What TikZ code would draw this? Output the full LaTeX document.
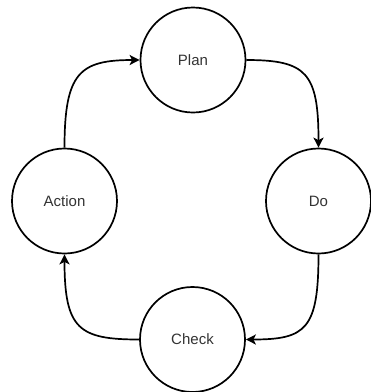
\documentclass[tikz,border=0pt]{standalone}
\usepackage{fontspec}
\setmainfont{Liberation Sans}
\usetikzlibrary{arrows.meta}
\begin{document}
\begin{tikzpicture}[x=1pt,y=-1pt,
  stage/.style={circle,draw=black,line width=1.7pt,minimum size=105pt,inner sep=0pt,
    font=\fontsize{15}{18}\selectfont,text=black!80},
  flow/.style={draw=black,line width=1.7pt,-{Stealth[length=10pt,width=10pt,inset=2.5pt]}}]
\useasboundingbox (0,0) rectangle (371,392);
\node[stage] (plan) at (193,60) {Plan};
\node[stage] (do) at (318.5,201) {Do};
\node[stage] (check) at (192.5,339.5) {Check};
\node[stage] (action) at (64.5,201) {Action};
\draw[flow] (action.north) .. controls +(0,-75) and +(-60,0) .. (plan.west);
\draw[flow] (plan.east) .. controls +(60,0) and +(0,-75) .. (do.north);
\draw[flow] (do.south) .. controls +(0,75) and +(60,0) .. (check.east);
\draw[flow] (check.west) .. controls +(-60,0) and +(0,75) .. (action.south);
\end{tikzpicture}
\end{document}
